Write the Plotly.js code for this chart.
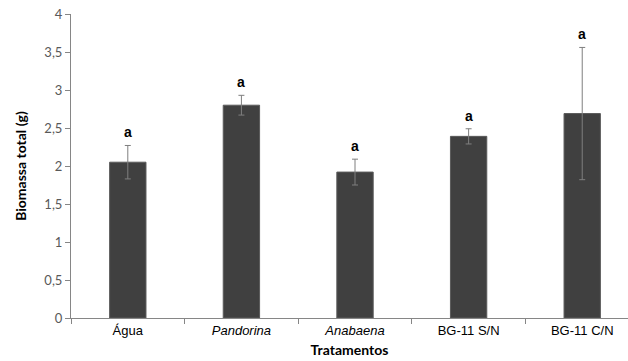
<!DOCTYPE html>
<html>
<head>
<meta charset="utf-8">
<script src="https://cdn.plot.ly/plotly-3.0.1.min.js"></script>
<style>html,body{margin:0;padding:0;background:#fff;}#chart{width:628px;height:361px;}</style>
</head>
<body>
<div id="chart"></div>
<script>
const categories = ['Água', 'Pandorina', 'Anabaena', 'BG-11 S/N', 'BG-11 C/N'];
const tickLabels = ['Água', '<i>Pandorina</i>', '<i>Anabaena</i>', 'BG-11 S/N', 'BG-11 C/N'];
const biomass = [2.05, 2.80, 1.92, 2.39, 2.69];
const errors = [0.22, 0.13, 0.17, 0.10, 0.87];
const letters = ['a', 'a', 'a', 'a', 'a'];
const yTickVals = [0, 0.5, 1, 1.5, 2, 2.5, 3, 3.5, 4];
const yTickText = ['0', '0,5', '1', '1,5', '2', '2,5', '3', '3,5', '4'];

const trace = {
  type: 'bar',
  x: categories,
  y: biomass,
  width: 0.32,
  marker: {color: '#404040', line: {color: '#5a5a5a', width: 1}},
  error_y: {type: 'data', array: errors, visible: true, color: '#7f7f7f', thickness: 1, width: 3},
  hoverinfo: 'none'
};

const annotations = categories.map((c, i) => ({
  x: c, y: biomass[i] + errors[i], xref: 'x', yref: 'y',
  text: '<b>' + letters[i] + '</b>', showarrow: false,
  yanchor: 'bottom', yshift: 3,
  font: {family: 'Liberation Sans, Arial, sans-serif', size: 14, color: '#000'}
}));

const layout = {
  width: 628, height: 361,
  margin: {l: 71, r: 0, t: 14, b: 43, pad: 0},
  paper_bgcolor: '#fff', plot_bgcolor: '#fff',
  showlegend: false,
  xaxis: {
    type: 'category',
    range: [-0.5, 4.403],
    tickvals: categories, ticktext: tickLabels,
    tickson: 'boundaries',
    ticks: 'outside', ticklen: 5, tickcolor: '#868686', tickwidth: 1,
    showline: true, linecolor: '#868686', linewidth: 1,
    showgrid: false, zeroline: false,
    tickfont: {family: 'Liberation Sans, Arial, sans-serif', size: 13, color: '#000'},
    title: {text: '<b>Tratamentos</b>', font: {family: 'Lato, sans-serif', size: 14, color: '#000'}, standoff: 8}
  },
  yaxis: {
    range: [0, 4],
    tickvals: yTickVals, ticktext: yTickText,
    ticks: 'outside', ticklen: 5, tickcolor: '#868686', tickwidth: 1,
    showline: true, linecolor: '#868686', linewidth: 1,
    showgrid: false, zeroline: false,
    tickfont: {family: 'Lato, sans-serif', size: 13, color: '#595959'},
    title: {text: '<b>Biomassa total (g)</b>', font: {family: 'Lato, sans-serif', size: 14, color: '#000'}, standoff: 14}
  },
  annotations: annotations
};

Plotly.newPlot('chart', [trace], layout, {displayModeBar: false, staticPlot: true});
</script>
</body>
</html>
